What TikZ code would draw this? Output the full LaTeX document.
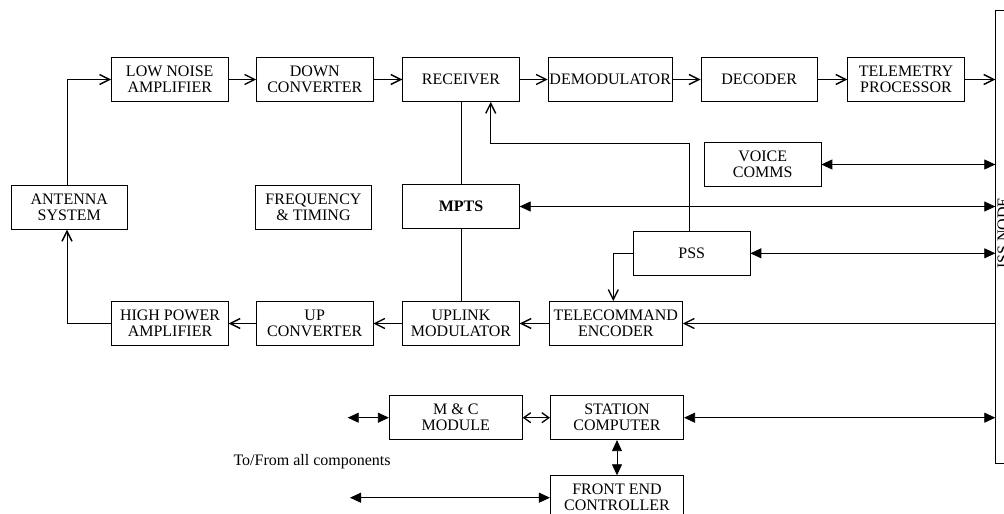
\documentclass[tikz,border=0pt]{standalone}
\usepackage{fontspec}
\setmainfont{Liberation Serif}
\usetikzlibrary{arrows.meta}

\tikzset{
  blk/.style={draw, line width=0.8pt, inner sep=0pt, align=center,
    minimum width=116.5pt, minimum height=44pt,
    font=\fontsize{16}{16}\selectfont},
  wide/.style={blk, minimum width=133.3pt},
  link/.style={line width=0.8pt},
  oarr/.style={link, -{Straight Barb[length=10pt,width=10pt,line width=1.4pt]}},
  oarrs/.style={link, {Straight Barb[length=7pt,width=10pt,line width=1.3pt]}-{Straight Barb[length=7pt,width=10pt,line width=1.3pt]}},
  farrs/.style={link, {Triangle[length=11pt,width=10pt]}-{Triangle[length=11pt,width=10pt]}},
}

\begin{document}
\begin{tikzpicture}[x=1pt,y=-1pt]
\useasboundingbox (0,0) rectangle (1004,514);
\clip (0,0) rectangle (1004,514);

% receive chain
\node[blk] (lna)  at (169.75,79.5) {LOW NOISE\\AMPLIFIER};
\node[blk] (down) at (314.8,79.5) {DOWN\\CONVERTER};
\node[blk] (rec)  at (461,79.5) {RECEIVER};
\node[blk, minimum width=124.3pt] (demod) at (610.2,79.5) {DEMODULATOR};
\node[blk] (dec)  at (759.2,79.5) {DECODER};
\node[blk] (tel)  at (906,79.5) {TELEMETRY\\PROCESSOR};

% middle row
\node[blk] (ant)   at (69.3,207.3) {ANTENNA\\SYSTEM};
\node[blk] (freq)  at (313.5,207) {FREQUENCY\\\& TIMING};
\node[blk] (mpts)  at (461,206.5) {\textbf{MPTS}};
\node[blk] (voice) at (762.7,164.5) {VOICE\\COMMS};
\node[blk, minimum height=43.3pt] (pss) at (691.7,253.3) {PSS};

% transmit chain
\node[wide] (tc)   at (615.8,323.5) {TELECOMMAND\\ENCODER};
\node[blk] (upm)   at (461,323.5) {UPLINK\\MODULATOR};
\node[blk] (upc)   at (314.7,323.5) {UP\\CONVERTER};
\node[blk] (hpa)   at (170,323.5) {HIGH POWER\\AMPLIFIER};

% monitoring and control
\node[wide, minimum width=133pt] (mc) at (455.8,417.7) {M \& C\\MODULE};
\node[wide] (sc) at (617,417.7) {STATION\\COMPUTER};
\node[wide] (fe) at (617,497.7) {FRONT END\\CONTROLLER};
\node[anchor=base west, inner sep=0pt, font=\fontsize{16}{16}\selectfont]
  (allcomp) at (233.3,465.5) {To/From all components};

% ISS node strip on the right
\node[draw, line width=0.8pt, minimum width=34.3pt, minimum height=452.3pt, inner sep=0pt]
  (iss) at (1012.85,236.85) {};
\node[rotate=90, inner sep=0pt, font=\fontsize{16}{16}\selectfont]
  (isslbl) at (1003,233) {ISS NODE};

% free ends of the "all components" links
\coordinate (mcfree) at (347.7,417.7);
\coordinate (fefree) at (350,497.7);

% receive path
\draw[oarr] ([xshift=-2.3pt]ant.north) |- (lna);
\draw[oarr] (lna) -- (down);
\draw[oarr] (down) -- (rec);
\draw[oarr] (rec) -- (demod);
\draw[oarr] (demod) -- (dec);
\draw[oarr] (dec) -- (tel);
\draw[oarr] (tel) -- (tel -| iss.west);

% MPTS ties receiver and modulator
\draw[link] (rec) -- (mpts);
\draw[link] (mpts) -- (upm);

% PSS feeds receiver and telecommand encoder
\draw[oarr] ([xshift=-2.4pt]pss.north) -- ++(0,-87.7) -| ([xshift=29.7pt]rec.south);
\draw[oarr] (pss.west) -| ([xshift=-2.5pt]tc.north);

% links to the ISS node
\draw[farrs] (voice) -- (voice -| iss.west);
\draw[farrs] (mpts) -- (mpts -| iss.west);
\draw[farrs] (pss) -- (pss -| iss.west);
\draw[oarr] (tc -| iss.west) -- (tc);
\draw[farrs] (sc) -- (sc -| iss.west);

% transmit path
\draw[oarr] (tc) -- (upm);
\draw[oarr] (upm) -- (upc);
\draw[oarr] (upc) -- (hpa);
\draw[oarr] (hpa) -| ([xshift=-2.3pt]ant.south);

% monitoring and control links
\draw[oarrs] (mc) -- (sc);
\draw[farrs] (mcfree) -- (mc);
\draw[farrs] (sc) -- (fe);
\draw[farrs] (fefree) -- (fefree -| fe.west);
\end{tikzpicture}
\end{document}
